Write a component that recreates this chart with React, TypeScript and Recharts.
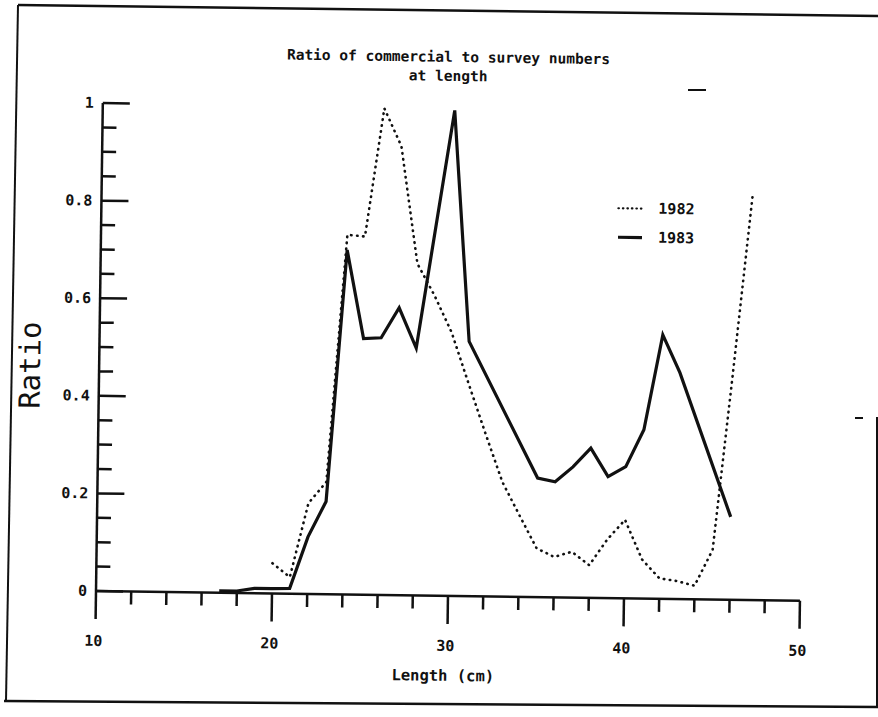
import React from 'react'
import { LineChart, Line, XAxis, YAxis, Legend } from 'recharts'

// values
const lengths1982 = [20, 21, 22, 23, 24, 25, 26, 27, 28, 29, 30, 31, 32, 33, 34, 35, 36, 37, 38, 39, 40, 41, 42, 43, 44, 45, 46, 47]
const ratio1982 = [0.062, 0.034, 0.186, 0.23, 0.737, 0.734, 0.997, 0.92, 0.68, 0.615, 0.54, 0.436, 0.334, 0.235, 0.167, 0.1, 0.083, 0.094, 0.067, 0.12, 0.161, 0.08, 0.042, 0.037, 0.028, 0.102, 0.46, 0.832]

const lengths1983 = [17, 18, 19, 20, 21, 22, 23, 24, 25, 26, 27, 28, 30, 31, 35, 36, 37, 38, 39, 40, 41, 42, 43, 46]
const ratio1983 = [0.004, 0.004, 0.01, 0.01, 0.011, 0.117, 0.19, 0.706, 0.525, 0.527, 0.589, 0.507, 0.995, 0.522, 0.244, 0.237, 0.268, 0.307, 0.249, 0.27, 0.346, 0.541, 0.464, 0.17]

const xTicks = [10, 12, 14, 16, 18, 20, 22, 24, 26, 28, 30, 32, 34, 36, 38, 40, 42, 44, 46, 48, 50]
const xLabels = [10, 20, 30, 40, 50]
const yTicks = [0, 0.05, 0.1, 0.15, 0.2, 0.25, 0.3, 0.35, 0.4, 0.45, 0.5, 0.55, 0.6, 0.65, 0.7, 0.75, 0.8, 0.85, 0.9, 0.95, 1]
const yLabels = [0, 0.2, 0.4, 0.6, 0.8, 1]

const seriesNames = ['1982', '1983']
const titleLines = ['Ratio of commercial to survey numbers', 'at length']

const data1982 = lengths1982.map((x, i) => ({ x, y: ratio1982[i] }))
const data1983 = lengths1983.map((x, i) => ({ x, y: ratio1983[i] }))

const INK = '#111'
const MONO = '"DejaVu Sans Mono", monospace'

const XTick = (props: any) => {
  const { x, y, payload } = props
  const major = xLabels.includes(payload.value)
  return (
    <g>
      <line x1={x} y1={y} x2={x} y2={y + (major ? 28 : 13)} stroke={INK} strokeWidth={2.5} />
      {major && (
        <text x={x - 2} y={y + 55} textAnchor="middle" fontFamily={MONO} fontWeight="bold" fontSize={15} fill={INK}>
          {payload.value}
        </text>
      )}
    </g>
  )
}

const YTick = (props: any) => {
  const { x, y, payload } = props
  const major = yLabels.includes(payload.value)
  return (
    <g>
      <line x1={x} y1={y} x2={x + (major ? 27 : 14)} y2={y} stroke={INK} strokeWidth={2.5} />
      {major && (
        <text x={x - 9} y={y + 5} textAnchor="end" fontFamily={MONO} fontWeight="bold" fontSize={15} fill={INK}>
          {String(payload.value)}
        </text>
      )}
    </g>
  )
}

const LegendBox = () => (
  <div style={{ fontFamily: MONO, fontWeight: 'bold', fontSize: 15, color: INK }}>
    {seriesNames.map((name, i) => (
      <div key={name} style={{ display: 'flex', alignItems: 'center', height: 29 }}>
        <svg width={44} height={10}>
          <line
            x1={4}
            y1={5}
            x2={28}
            y2={5}
            stroke={INK}
            strokeWidth={i === 0 ? 2.2 : 3.2}
            strokeDasharray={i === 0 ? '0.5 4' : undefined}
            strokeLinecap={i === 0 ? 'round' : 'butt'}
          />
        </svg>
        <span>{name}</span>
      </div>
    ))}
  </div>
)

export default function App() {
  return (
    <div style={{ position: 'absolute', left: 0, top: 0, width: 878, height: 717, background: '#fff', overflow: 'hidden' }}>
      {/* page frame from the scan */}
      <svg width={878} height={717} style={{ position: 'absolute', left: 0, top: 0 }}>
        <line x1={18} y1={5} x2={878} y2={16} stroke={INK} strokeWidth={2.5} />
        <line x1={18} y1={5} x2={6} y2={701} stroke={INK} strokeWidth={2} />
        <line x1={4} y1={701} x2={878} y2={707} stroke={INK} strokeWidth={2.5} />
        <line x1={877} y1={417} x2={877} y2={707} stroke={INK} strokeWidth={2} />
        <line x1={855} y1={418} x2={863} y2={418} stroke={INK} strokeWidth={2} />
        <line x1={688} y1={90} x2={706} y2={90} stroke={INK} strokeWidth={2} />
      </svg>
      <div style={{ position: 'absolute', left: 0, top: 0, width: 878, height: 717, transform: 'rotate(0.8deg)', transformOrigin: '96px 591px' }}>
        {titleLines.map((t, i) => (
          <div
            key={t}
            style={{
              position: 'absolute',
              left: 141,
              width: 600,
              top: 44 + i * 19,
              textAlign: 'center',
              fontFamily: MONO,
              fontWeight: 'bold',
              fontSize: 14.5,
              color: INK,
              whiteSpace: 'pre',
            }}
          >
            {t}
          </div>
        ))}
        <div
          style={{
            position: 'absolute',
            left: 27,
            top: 366,
            transform: 'translate(-50%, -50%) rotate(-90deg)',
            fontFamily: MONO,
            fontSize: 29,
            color: INK,
          }}
        >
          Ratio
        </div>
        <div
          style={{
            position: 'absolute',
            left: 444,
            top: 671,
            transform: 'translate(-50%, -50%)',
            fontFamily: MONO,
            fontWeight: 'bold',
            fontSize: 15.5,
            color: INK,
            whiteSpace: 'pre',
          }}
        >
          Length (cm)
        </div>
        <LineChart width={878} height={717} margin={{ top: 103, left: 56, right: 78, bottom: 86 }}>
          <XAxis
            type="number"
            dataKey="x"
            domain={[10, 50]}
            ticks={xTicks}
            interval={0}
            height={40}
            tickSize={0}
            tickMargin={0}
            tickLine={false}
            axisLine={{ stroke: INK, strokeWidth: 2.5 }}
            tick={XTick}
            allowDataOverflow
          />
          <YAxis
            type="number"
            domain={[0, 1]}
            ticks={yTicks}
            interval={0}
            width={40}
            tickSize={0}
            tickMargin={0}
            tickLine={false}
            axisLine={{ stroke: INK, strokeWidth: 2.5 }}
            tick={YTick}
            allowDataOverflow
          />
          <Legend
            layout="vertical"
            verticalAlign="middle"
            align="center"
            wrapperStyle={{ left: 609, top: 186, width: 120 }}
            content={LegendBox}
          />
          <Line
            data={data1982}
            dataKey="y"
            name={seriesNames[0]}
            type="linear"
            stroke={INK}
            strokeWidth={2.6}
            strokeDasharray="0.5 5.5"
            strokeLinecap="round"
            dot={false}
            activeDot={false}
            isAnimationActive={false}
          />
          <Line
            data={data1983}
            dataKey="y"
            name={seriesNames[1]}
            type="linear"
            stroke={INK}
            strokeWidth={3.2}
            strokeLinejoin="miter"
            dot={false}
            activeDot={false}
            isAnimationActive={false}
          />
        </LineChart>
      </div>
    </div>
  )
}
